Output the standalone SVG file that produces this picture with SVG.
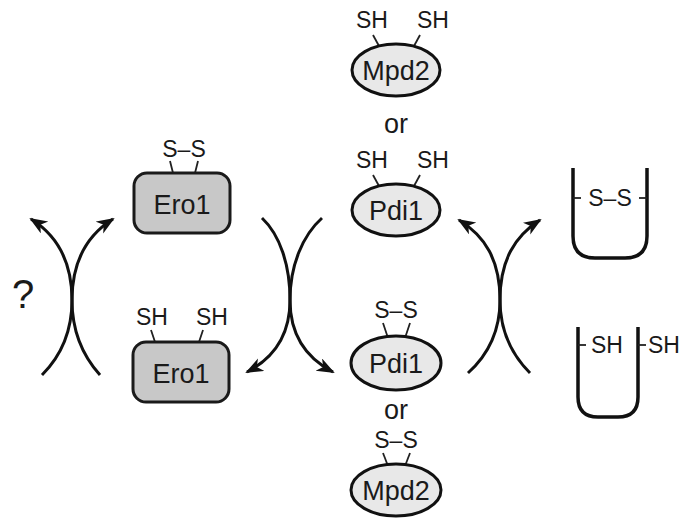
<svg xmlns="http://www.w3.org/2000/svg" width="684" height="519" viewBox="0 0 684 519">
<defs>
<marker id="ah" markerUnits="userSpaceOnUse" markerWidth="20" markerHeight="16" refX="16" refY="7" orient="auto">
<path d="M0,0 L18,7 L0,14 L5,7 Z" fill="#111"/>
</marker>
<style>
text{font-family:"Liberation Sans",Arial,sans-serif;fill:#1a1a1a;text-anchor:middle}
.lbl{font-size:23px}
.big{font-size:27px}
.box{fill:#c8c8c8;stroke:#1a1a1a;stroke-width:3}
.ell{fill:#e8e8e8;stroke:#111;stroke-width:3}
.tick{stroke:#222;stroke-width:1.8;fill:none}
.arr{fill:none;stroke:#111;stroke-width:3;marker-end:url(#ah)}
.u{fill:none;stroke:#111;stroke-width:3.5}
</style>
</defs>
<rect width="684" height="519" fill="#fff"/>

<g id="ero1-ox">
<line class="tick" x1="170" y1="161" x2="173" y2="173"/>
<line class="tick" x1="198" y1="161" x2="195" y2="173"/>
<text class="lbl" x="184" y="157">S–S</text>
<rect class="box" x="134" y="173" width="96" height="60" rx="13"/>
<text class="big" x="182" y="214">Ero1</text>
</g>

<g id="ero1-red">
<line class="tick" x1="151" y1="330" x2="155" y2="342"/>
<line class="tick" x1="203" y1="330" x2="199" y2="342"/>
<text class="lbl" x="152" y="325">SH</text>
<text class="lbl" x="212" y="325">SH</text>
<rect class="box" x="133" y="342" width="96" height="60" rx="13"/>
<text class="big" x="181" y="383">Ero1</text>
</g>

<g id="mpd2-red">
<text class="lbl" x="372" y="28">SH</text>
<text class="lbl" x="433" y="28">SH</text>
<line class="tick" x1="373" y1="35" x2="379" y2="46"/>
<line class="tick" x1="420" y1="35" x2="414" y2="46"/>
<ellipse class="ell" cx="396" cy="70" rx="44" ry="26"/>
<text class="big" x="396" y="80">Mpd2</text>
</g>

<text class="big" x="396" y="133">or</text>

<g id="pdi1-red">
<text class="lbl" x="372" y="168">SH</text>
<text class="lbl" x="433" y="168">SH</text>
<line class="tick" x1="373" y1="175" x2="379" y2="186"/>
<line class="tick" x1="420" y1="175" x2="414" y2="186"/>
<ellipse class="ell" cx="396" cy="210" rx="44" ry="26"/>
<text class="big" x="396" y="220">Pdi1</text>
</g>

<g id="pdi1-ox">
<text class="lbl" x="396" y="318">S–S</text>
<line class="tick" x1="383" y1="323" x2="388" y2="338"/>
<line class="tick" x1="410" y1="323" x2="405" y2="338"/>
<ellipse class="ell" cx="396" cy="363" rx="45" ry="27"/>
<text class="big" x="396" y="373">Pdi1</text>
</g>

<text class="big" x="396" y="419">or</text>

<g id="mpd2-ox">
<text class="lbl" x="396" y="448">S–S</text>
<line class="tick" x1="383" y1="453" x2="388" y2="466"/>
<line class="tick" x1="410" y1="453" x2="405" y2="466"/>
<ellipse class="ell" cx="396" cy="490" rx="45" ry="26"/>
<text class="big" x="396" y="500">Mpd2</text>
</g>

<g id="substrate-ox">
<path class="u" d="M573,168 V236 Q573,258 595,258 H625 Q647,258 647,236 V168"/>
<line class="tick" x1="573" y1="198" x2="581" y2="198"/>
<line class="tick" x1="639" y1="198" x2="647" y2="198"/>
<text class="lbl" x="610" y="206">S–S</text>
</g>

<g id="substrate-red">
<path class="u" d="M578,327 V397 Q578,417 598,417 H618 Q638,417 638,397 V327"/>
<line class="tick" x1="578" y1="345" x2="586" y2="345"/>
<text class="lbl" x="607" y="353">SH</text>
<line class="tick" x1="638" y1="345" x2="646" y2="345"/>
<text class="lbl" x="664" y="353">SH</text>
</g>

<text id="question" x="23" y="308" style="font-size:40px">?</text>

<g id="connectors">
<path class="arr" d="M42,375 C62,355 72,330 72,300 C72,262 86,236 113,219"/>
<path class="arr" d="M100,375 C82,355 72,330 72,300 C72,262 58,236 31,219"/>
<path class="arr" d="M262,218 C280,235 290,265 290,300 C290,335 306,358 333,372"/>
<path class="arr" d="M322,218 C303,235 290,265 290,300 C290,335 274,358 247,372"/>
<path class="arr" d="M468,373 C488,355 500,330 500,300 C500,260 515,236 540,220"/>
<path class="arr" d="M530,373 C512,355 500,330 500,300 C500,260 485,236 459,220"/>
</g>
</svg>
